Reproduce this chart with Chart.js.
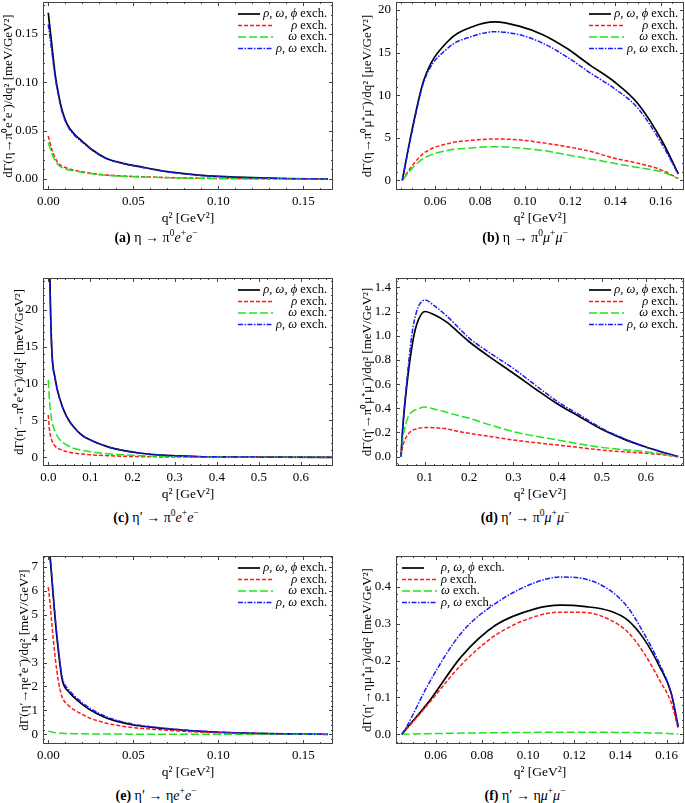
<!DOCTYPE html>
<html>
<head>
<meta charset="utf-8">
<script src="https://cdn.jsdelivr.net/npm/chart.js@4.4.1/dist/chart.umd.min.js"></script>
<style>
  body { margin: 0; width: 685px; height: 803px; background: #fff; position: relative; overflow: hidden; font-family: "Liberation Serif", serif; }
  canvas { position: absolute; }
  .cap { position: absolute; width: 300px; text-align: center; font-size: 14px; line-height: 16px; color: #000; }
  .cap sup { font-size: 9.5px; line-height: 0; }
</style>
</head>
<body>
<canvas id="chartA" width="340" height="230" style="left:0px;top:0px"></canvas>
<canvas id="chartB" width="340" height="230" style="left:345px;top:0px"></canvas>
<canvas id="chartC" width="340" height="230" style="left:0px;top:276px"></canvas>
<canvas id="chartD" width="340" height="230" style="left:345px;top:276px"></canvas>
<canvas id="chartE" width="340" height="230" style="left:0px;top:554px"></canvas>
<canvas id="chartF" width="340" height="230" style="left:345px;top:554px"></canvas>

<div class="cap" style="left:6px;top:230px"><b>(a)</b> η → π<sup>0</sup><i>e</i><sup>+</sup><i>e</i><sup>−</sup></div>
<div class="cap" style="left:375px;top:230px"><b>(b)</b> η → π<sup>0</sup><i>μ</i><sup>+</sup><i>μ</i><sup>−</sup></div>
<div class="cap" style="left:6px;top:510px"><b>(c)</b> η′ → π<sup>0</sup><i>e</i><sup>+</sup><i>e</i><sup>−</sup></div>
<div class="cap" style="left:375px;top:510px"><b>(d)</b> η′ → π<sup>0</sup><i>μ</i><sup>+</sup><i>μ</i><sup>−</sup></div>
<div class="cap" style="left:6px;top:788px"><b>(e)</b> η′ → η<i>e</i><sup>+</sup><i>e</i><sup>−</sup></div>
<div class="cap" style="left:375px;top:788px"><b>(f)</b> η′ → η<i>μ</i><sup>+</sup><i>μ</i><sup>−</sup></div>

<script>
// legend names, same order in every panel
const seriesNames = ['ρ, ω, ϕ exch.', 'ρ exch.', 'ω exch.', 'ρ, ω exch.'];

// (a) eta -> pi0 e+ e-
const aQ2 = [0, 0.002, 0.004, 0.006, 0.008, 0.011, 0.015, 0.02, 0.026, 0.034, 0.044, 0.054, 0.07, 0.08, 0.09, 0.1, 0.12, 0.14, 0.16, 0.1645];
const aFull = [0.172, 0.140, 0.109, 0.088, 0.072, 0.057, 0.047, 0.039, 0.030, 0.0215, 0.0162, 0.0127, 0.0076, 0.0055, 0.0038, 0.0027, 0.0013, 0.0005, 0.0001, 0];
const aRho = [0.0445, 0.031, 0.022, 0.016, 0.0135, 0.0113, 0.0093, 0.0074, 0.0058, 0.0042, 0.0031, 0.0024, 0.0015, 0.0011, 0.0008, 0.0006, 0.0003, 0.0001, 0, 0];
const aOmega = [0.0376, 0.027, 0.019, 0.0145, 0.0118, 0.0098, 0.0084, 0.0068, 0.0053, 0.0038, 0.0028, 0.0021, 0.0013, 0.0009, 0.0007, 0.0005, 0.0002, 0.0001, 0, 0];
const aRhoOmega = [0.160, 0.133, 0.106, 0.086, 0.070, 0.056, 0.046, 0.038, 0.0295, 0.021, 0.016, 0.0124, 0.0074, 0.0054, 0.0037, 0.0026, 0.0012, 0.0004, 0.0001, 0];
const aXTicks = ['0.00', '0.05', '0.10', '0.15'];
const aYTicks = ['0.00', '0.05', '0.10', '0.15'];

// (b) eta -> pi0 mu+ mu-
const bQ2 = [0.0455, 0.0498, 0.0551, 0.0656, 0.0763, 0.0867, 0.0973, 0.1078, 0.1184, 0.1289, 0.1394, 0.15, 0.1605, 0.1679];
const bFull = [0, 5.9, 11.8, 16.3, 18.0, 18.6, 18.1, 17.1, 15.5, 13.5, 11.6, 9.0, 4.7, 0.74];
const bRho = [0, 1.7, 3.2, 4.3, 4.7, 4.85, 4.75, 4.4, 3.95, 3.4, 2.6, 2.0, 1.2, 0.2];
const bOmega = [0, 1.4, 2.6, 3.5, 3.8, 3.95, 3.8, 3.5, 3.0, 2.5, 2.0, 1.5, 1.0, 0.2];
const bRhoOmega = [0, 5.7, 11.6, 15.5, 16.9, 17.45, 17.1, 16.1, 14.5, 12.6, 10.8, 8.45, 4.3, 0.7];
const bXTicks = ['0.06', '0.08', '0.10', '0.12', '0.14', '0.16'];
const bYTicks = ['0', '5', '10', '15', '20'];

// (c) eta' -> pi0 e+ e-
const cQ2 = [0, 0.002, 0.004, 0.008, 0.016, 0.028, 0.044, 0.06, 0.08, 0.1, 0.14, 0.18, 0.22, 0.28, 0.35, 0.45, 0.55, 0.675];
const cFull = [80, 34, 24, 15.0, 10.8, 7.8, 5.5, 4.15, 3.0, 2.35, 1.45, 0.9, 0.55, 0.25, 0.11, 0.04, 0.015, 0];
const cRho = [5.75, 4.2, 3.26, 2.35, 1.53, 1.08, 0.77, 0.58, 0.45, 0.35, 0.22, 0.14, 0.09, 0.05, 0.025, 0.01, 0.003, 0];
const cOmega = [10.5, 8.4, 6.9, 5.05, 3.5, 2.35, 1.67, 1.22, 0.95, 0.76, 0.49, 0.33, 0.22, 0.1, 0.05, 0.02, 0.005, 0];
const cRhoOmega = [78, 33.5, 23.8, 14.9, 10.7, 7.75, 5.45, 4.1, 2.98, 2.33, 1.44, 0.9, 0.55, 0.25, 0.11, 0.04, 0.015, 0];
const cXTicks = ['0.0', '0.1', '0.2', '0.3', '0.4', '0.5', '0.6'];
const cYTicks = ['0', '5', '10', '15', '20'];

// (d) eta' -> pi0 mu+ mu-
const dQ2 = [0.0457, 0.05, 0.058, 0.07, 0.081, 0.1, 0.12, 0.15, 0.175, 0.2, 0.25, 0.3, 0.35, 0.4, 0.45, 0.5, 0.55, 0.6, 0.64, 0.673];
const dFull = [0, 0.25, 0.56, 0.9, 1.09, 1.2, 1.175, 1.11, 1.03, 0.95, 0.815, 0.69, 0.56, 0.435, 0.33, 0.226, 0.145, 0.08, 0.035, 0];
const dRho = [0, 0.09, 0.165, 0.215, 0.229, 0.242, 0.24, 0.229, 0.21, 0.193, 0.165, 0.138, 0.116, 0.096, 0.075, 0.055, 0.04, 0.028, 0.015, 0];
const dOmega = [0, 0.15, 0.29, 0.37, 0.39, 0.41, 0.395, 0.366, 0.34, 0.317, 0.26, 0.207, 0.17, 0.138, 0.105, 0.077, 0.058, 0.041, 0.02, 0];
const dRhoOmega = [0, 0.26, 0.59, 1.0, 1.2, 1.295, 1.25, 1.16, 1.07, 0.98, 0.85, 0.73, 0.59, 0.455, 0.345, 0.234, 0.15, 0.077, 0.035, 0];
const dXTicks = ['0.1', '0.2', '0.3', '0.4', '0.5', '0.6'];
const dYTicks = ['0.0', '0.2', '0.4', '0.6', '0.8', '1.0', '1.2', '1.4'];

// (e) eta' -> eta e+ e-
const eQ2 = [0, 0.001, 0.002, 0.004, 0.006, 0.008, 0.0095, 0.012, 0.015, 0.02, 0.025, 0.03, 0.035, 0.04, 0.05, 0.06, 0.07, 0.08, 0.09, 0.1, 0.12, 0.14, 0.16, 0.1645];
const eFull = [9.0, 7.5, 6.6, 4.85, 3.45, 2.35, 2.0, 1.78, 1.55, 1.25, 1.0, 0.82, 0.66, 0.55, 0.39, 0.3, 0.23, 0.17, 0.12, 0.085, 0.04, 0.015, 0.003, 0];
const eRho = [6.15, 5.5, 4.7, 3.25, 2.2, 1.58, 1.38, 1.2, 1.03, 0.83, 0.66, 0.55, 0.45, 0.38, 0.28, 0.22, 0.17, 0.125, 0.09, 0.065, 0.03, 0.012, 0.002, 0];
const eOmega = [0.14, 0.12, 0.1, 0.07, 0.05, 0.04, 0.035, 0.03, 0.025, 0.02, 0.016, 0.013, 0.011, 0.009, 0.007, 0.005, 0.004, 0.003, 0.002, 0.0015, 0.001, 0.0005, 0.0001, 0];
const eRhoOmega = [9.2, 7.6, 6.7, 4.95, 3.55, 2.45, 2.1, 1.87, 1.63, 1.32, 1.06, 0.87, 0.71, 0.59, 0.42, 0.32, 0.245, 0.18, 0.13, 0.09, 0.043, 0.016, 0.003, 0];
const eXTicks = ['0.00', '0.05', '0.10', '0.15'];
const eYTicks = ['0', '1', '2', '3', '4', '5', '6', '7'];

// (f) eta' -> eta mu+ mu-
const fQ2 = [0.0453, 0.0475, 0.057, 0.071, 0.086, 0.103, 0.114, 0.125, 0.1355, 0.143, 0.15, 0.157, 0.162, 0.165];
const fFull = [0, 0.017, 0.088, 0.21, 0.296, 0.34, 0.350, 0.346, 0.334, 0.31, 0.26, 0.183, 0.111, 0.02];
const fRho = [0, 0.015, 0.084, 0.188, 0.269, 0.319, 0.331, 0.33, 0.31, 0.278, 0.222, 0.146, 0.085, 0.015];
const fOmega = [0, 0.0005, 0.002, 0.0035, 0.0045, 0.0055, 0.006, 0.006, 0.0055, 0.005, 0.0045, 0.0035, 0.002, 0.001];
const fRhoOmega = [0, 0.022, 0.138, 0.274, 0.355, 0.411, 0.426, 0.42, 0.39, 0.345, 0.275, 0.19, 0.11, 0.02];
const fXTicks = ['0.06', '0.08', '0.10', '0.12', '0.14', '0.16'];
const fYTicks = ['0.0', '0.1', '0.2', '0.3', '0.4'];

const FONT = '"Liberation Serif", serif';
Chart.defaults.font.family = FONT;
Chart.defaults.color = '#000';

// line looks, Mathematica style
const lineStyles = [
    { color: '#000000', width: 1.7, dash: [], order: 4, sample: 22 },
    { color: '#ff1a1a', width: 1.5, dash: [4, 2], order: 3, sample: 35 },
    { color: '#1ee51e', width: 1.5, dash: [8, 3], order: 2, sample: 35 },
    { color: '#1a1aff', width: 1.5, dash: [5, 1.5, 1.5, 1.5], order: 1, sample: 35 }
];

// frame with inward ticks + legend inside the plot
const decor = {
    id: 'decor',
    afterDatasetsDraw(chart, args, opts) {
        const ctx = chart.ctx;
        const a = chart.chartArea;
        const xs = chart.scales.x, ys = chart.scales.y;
        ctx.save();
        ctx.strokeStyle = '#444';
        ctx.lineWidth = 1;
        ctx.setLineDash([]);
        ctx.strokeRect(a.left + 0.5, a.top + 0.5, a.width - 1, a.height - 1);

        function marks(scale, values, len, horiz) {
            values.forEach(v => {
                const p = Math.round(scale.getPixelForValue(v)) + 0.5;
                ctx.beginPath();
                if (horiz) {
                    if (p < a.left || p > a.right) return;
                    ctx.moveTo(p, a.bottom); ctx.lineTo(p, a.bottom - len);
                    ctx.moveTo(p, a.top); ctx.lineTo(p, a.top + len);
                } else {
                    if (p < a.top || p > a.bottom) return;
                    ctx.moveTo(a.left, p); ctx.lineTo(a.left + len, p);
                    ctx.moveTo(a.right, p); ctx.lineTo(a.right - len, p);
                }
                ctx.stroke();
            });
        }
        function minors(scale, step) {
            const out = [];
            for (let k = Math.ceil(scale.min / step); k <= Math.floor(scale.max / step); k++) out.push(k * step);
            return out;
        }
        marks(xs, minors(xs, opts.xMinor), 2, true);
        marks(ys, minors(ys, opts.yMinor), 2, false);
        marks(xs, opts.xTicks.map(Number), 4, true);
        marks(ys, opts.yTicks.map(Number), 4, false);

        // legend
        ctx.textBaseline = 'middle';
        chart.data.datasets.forEach((ds, i) => {
            const y = a.top + 12 + i * 11.5;
            const x0 = opts.side === 'right' ? a.right - 95 : a.left + 6;
            ctx.strokeStyle = ds.borderColor;
            ctx.lineWidth = ds.borderWidth;
            ctx.setLineDash(ds.borderDash);
            ctx.beginPath();
            ctx.moveTo(x0, y);
            ctx.lineTo(x0 + lineStyles[i].sample, y);
            ctx.stroke();

            const greek = ds.label.replace(' exch.', '');
            const rest = ' exch.';
            ctx.font = 'italic 12.5px ' + FONT;
            const w1 = ctx.measureText(greek).width;
            ctx.font = '12.5px ' + FONT;
            const w2 = ctx.measureText(rest).width;
            const tx = opts.side === 'right' ? a.right - 6 - w1 - w2 : a.left + 45;
            ctx.fillStyle = '#000';
            ctx.textAlign = 'left';
            ctx.font = 'italic 12.5px ' + FONT;
            ctx.fillText(greek, tx, y);
            ctx.font = '12.5px ' + FONT;
            ctx.fillText(rest, tx + w1, y);
        });
        ctx.restore();
    }
};

function makeChart(id, p) {
    const datasets = p.series.map((vals, i) => ({
        label: seriesNames[i],
        data: p.q2.map((q, j) => ({ x: q, y: vals[j] })),
        borderColor: lineStyles[i].color,
        borderWidth: lineStyles[i].width,
        borderDash: lineStyles[i].dash,
        order: lineStyles[i].order,
        pointRadius: 0,
        fill: false,
        cubicInterpolationMode: 'monotone'
    }));
    const axisW = p.rightCol ? 51 : 43;
    return new Chart(document.getElementById(id), {
        type: 'line',
        data: { datasets: datasets },
        options: {
            responsive: false,
            animation: false,
            devicePixelRatio: 1,
            events: [],
            layout: { padding: { top: 2, right: p.rightCol ? 1 : 7, bottom: 0, left: 0 } },
            plugins: {
                legend: { display: false },
                tooltip: { enabled: false },
                decor: { side: p.legendSide, xTicks: p.xTicks, yTicks: p.yTicks, xMinor: p.xMinor, yMinor: p.yMinor }
            },
            scales: {
                x: {
                    type: 'linear',
                    min: p.xRange[0],
                    max: p.xRange[1],
                    grid: { display: false, drawTicks: false },
                    border: { display: false },
                    afterBuildTicks: s => { s.ticks = p.xTicks.map(t => ({ value: Number(t) })); },
                    afterFit: s => { s.height = 40; s.paddingLeft = 0; s.paddingRight = 0; },
                    ticks: {
                        autoSkip: false, maxRotation: 0, padding: 4,
                        font: { size: 13 },
                        callback: (v, i) => p.xTicks[i]
                    },
                    title: { display: true, text: 'q² [GeV²]', font: { size: 13.5 }, padding: { top: 0, bottom: 3.5 } }
                },
                y: {
                    type: 'linear',
                    min: p.yRange[0],
                    max: p.yRange[1],
                    grid: { display: false, drawTicks: false },
                    border: { display: false },
                    afterBuildTicks: s => { s.ticks = p.yTicks.map(t => ({ value: Number(t) })); },
                    afterFit: s => { s.width = axisW; s.paddingTop = 0; s.paddingBottom = 0; },
                    ticks: {
                        autoSkip: false, padding: 5,
                        font: { size: 13 },
                        callback: (v, i) => p.yTicks[i]
                    },
                    title: { display: true, text: p.yTitle, font: { size: 13 }, padding: { top: p.titlePad, bottom: 0 } }
                }
            }
        },
        plugins: [decor]
    });
}

document.addEventListener('DOMContentLoaded', function () {
    makeChart('chartA', {
        q2: aQ2, series: [aFull, aRho, aOmega, aRhoOmega],
        xRange: [-0.0031, 0.1675], yRange: [-0.0114, 0.1831],
        xTicks: aXTicks, yTicks: aYTicks, xMinor: 0.01, yMinor: 0.01,
        yTitle: 'dΓ(η→π⁰e⁺e⁻)/dq² [meV/GeV²]', titlePad: 1.2,
        rightCol: false, legendSide: 'right'
    });
    makeChart('chartB', {
        q2: bQ2, series: [bFull, bRho, bOmega, bRhoOmega],
        xRange: [0.0427, 0.1704], yRange: [-1.14, 20.94],
        xTicks: bXTicks, yTicks: bYTicks, xMinor: 0.005, yMinor: 1,
        yTitle: 'dΓ(η→π⁰μ⁺μ⁻)/dq² [μeV/GeV²]', titlePad: 15.2,
        rightCol: true, legendSide: 'right'
    });
    makeChart('chartC', {
        q2: cQ2, series: [cFull, cRho, cOmega, cRhoOmega],
        xRange: [-0.0126, 0.676], yRange: [-1.18, 24.35],
        xTicks: cXTicks, yTicks: cYTicks, xMinor: 0.02, yMinor: 1,
        yTitle: 'dΓ(η′→π⁰e⁺e⁻)/dq² [meV/GeV²]', titlePad: 12.2,
        rightCol: false, legendSide: 'right'
    });
    makeChart('chartD', {
        q2: dQ2, series: [dFull, dRho, dOmega, dRhoOmega],
        xRange: [0.0344, 0.686], yRange: [-0.077, 1.477],
        xTicks: dXTicks, yTicks: dYTicks, xMinor: 0.02, yMinor: 0.05,
        yTitle: 'dΓ(η′→π⁰μ⁺μ⁻)/dq² [meV/GeV²]', titlePad: 14.7,
        rightCol: true, legendSide: 'right'
    });
    makeChart('chartE', {
        q2: eQ2, series: [eFull, eRho, eOmega, eRhoOmega],
        xRange: [-0.0031, 0.1675], yRange: [-0.405, 7.45],
        xTicks: eXTicks, yTicks: eYTicks, xMinor: 0.01, yMinor: 0.2,
        yTitle: 'dΓ(η′→ηe⁺e⁻)/dq² [meV/GeV²]', titlePad: 17.2,
        rightCol: false, legendSide: 'right'
    });
    makeChart('chartF', {
        q2: fQ2, series: [fFull, fRho, fOmega, fRhoOmega],
        xRange: [0.0428, 0.1675], yRange: [-0.026, 0.483],
        xTicks: fXTicks, yTicks: fYTicks, xMinor: 0.005, yMinor: 0.02,
        yTitle: 'dΓ(η′→ημ⁺μ⁻)/dq² [meV/GeV²]', titlePad: 14.7,
        rightCol: true, legendSide: 'left'
    });
});
</script>
</body>
</html>
